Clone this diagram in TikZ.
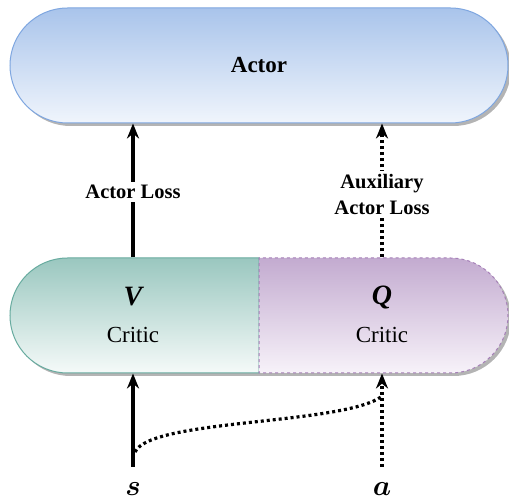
\RequirePackage{fix-cm}
\documentclass[tikz,border=0pt]{standalone}
\usepackage{bm}
\usepackage{fontspec}
\setmainfont{Liberation Serif}
\usetikzlibrary{shapes.misc,arrows.meta,shadows}
\definecolor{actTop}{HTML}{A9C4EB}
\definecolor{actBot}{HTML}{F0F5FC}
\definecolor{actLine}{HTML}{7EA6E0}
\definecolor{vTop}{HTML}{9AC7BF}
\definecolor{vBot}{HTML}{F5FAF9}
\definecolor{vLine}{HTML}{67AB9F}
\definecolor{qTop}{HTML}{C3ABD0}
\definecolor{qBot}{HTML}{F7F2F9}
\definecolor{qLine}{HTML}{A680B8}
\definecolor{shade}{HTML}{B4B4B4}
\tikzset{
  pill/.style={rounded rectangle, minimum height=115pt, line width=1pt, inner sep=0pt,
    drop shadow={shadow xshift=3pt, shadow yshift=-3pt, fill=shade, opacity=1}},
  flow/.style={line width=3.2pt, -{Stealth[length=15pt,width=12pt]}},
  dotline/.style={line width=3.2pt, dash pattern=on 3pt off 3pt},
  auxflow/.style={flow, dash pattern=on 3pt off 3pt},
  losslbl/.style={font=\fontsize{20.5}{26}\selectfont\bfseries, fill=white, align=center, inner sep=3pt},
  symlbl/.style={font=\fontsize{28}{30}\selectfont\bfseries\itshape, inner sep=0pt},
  critlbl/.style={font=\fontsize{23}{26}\selectfont, inner sep=0pt},
  inlbl/.style={font=\fontsize{29}{32}\selectfont, inner sep=0pt},
}
\begin{document}
\begin{tikzpicture}[x=1pt,y=1pt]
\useasboundingbox (0,0) rectangle (509,501);
% actor
\node[pill, minimum width=498pt, draw=actLine, top color=actTop, bottom color=actBot,
  font=\fontsize{23}{26}\selectfont\bfseries] (actor) at (259,435.5) {Actor};
% critic halves
\node[pill, minimum width=249pt, rounded rectangle right arc=none, draw=vLine,
  top color=vTop, bottom color=vBot] (vcrit) at (134.5,185.5) {};
\node[pill, minimum width=249pt, rounded rectangle left arc=none, draw=qLine, dashed,
  top color=qTop, bottom color=qBot] (qcrit) at (383.5,185.5) {};
\node[symlbl] (vsym) at (133,204) {V};
\node[critlbl] (vname) at (133,166) {Critic};
\node[symlbl] (qsym) at (382,203) {Q};
\node[critlbl] (qname) at (382,166) {Critic};
% inputs
\node[inlbl, anchor=base] (s) at (133,5.5) {$\bm{s}$};
\node[inlbl, anchor=base] (a) at (382,5.5) {$\bm{a}$};
\coordinate (sfoot) at (133,34);
\coordinate (afoot) at (382,34);
\coordinate (sbend) at (135,49);
\coordinate (abend) at (381,104);
\draw[flow] (sfoot) -- (vcrit.south -| sfoot);
\draw[auxflow] (afoot) -- (qcrit.south -| afoot);
\draw[dotline] (sbend) .. controls (150,82) and (340,76) .. (abend);
% losses
\draw[flow] (vcrit.north -| sfoot) -- node[losslbl, pos=0.49] (vloss) {Actor Loss} (actor.south -| sfoot);
\draw[auxflow] (qcrit.north -| afoot) -- node[losslbl, pos=0.47] (qloss) {Auxiliary\\Actor Loss} (actor.south -| afoot);
\end{tikzpicture}
\end{document}
